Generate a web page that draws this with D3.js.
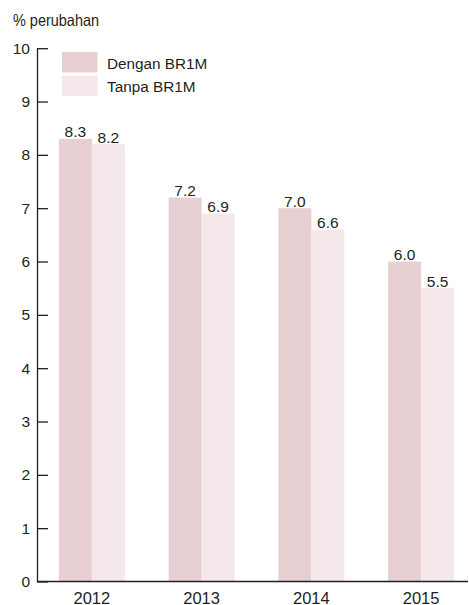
<!DOCTYPE html>
<html><head><meta charset="utf-8">
<script src="https://cdn.jsdelivr.net/npm/d3@7"></script>
<style>body{margin:0;background:#fff}svg{display:block}text{font-family:"Liberation Sans",Arial,sans-serif;fill:#231f20}</style>
</head><body>
<script>
const categories = ["2012","2013","2014","2015"];
const seriesNames = ["Dengan BR1M","Tanpa BR1M"];
const dengan = [8.3,7.2,7.0,6.0];
const tanpa = [8.2,6.9,6.6,5.5];
const yTicks = [0,1,2,3,4,5,6,7,8,9,10];
const colors = ["#e8cfd1","#f5e8ea"];

const W=469,H=605;
const svg=d3.select("body").append("svg").attr("width",W).attr("height",H);
const y=d3.scaleLinear().domain([0,10]).range([581.5,48.2]);
const x0=d3.scaleBand().domain(categories).range([37,476]).padding(0);
const x1=d3.scaleBand().domain(seriesNames).range([0,66]).padding(0);
const off=(x0.bandwidth()-66)/2;
const data=categories.map((c,i)=>({c,vals:[dengan[i],tanpa[i]]}));

const g=svg.selectAll("g.grp").data(data).join("g").attr("transform",d=>`translate(${x0(d.c)+off},0)`);
g.selectAll("rect").data(d=>d.vals.map((v,k)=>({v,k}))).join("rect")
 .attr("x",d=>x1(seriesNames[d.k])).attr("width",x1.bandwidth())
 .attr("y",d=>y(d.v)).attr("height",d=>y(0)-y(d.v)).attr("fill",d=>colors[d.k]);
g.selectAll("text").data(d=>d.vals.map((v,k)=>({v,k}))).join("text")
 .attr("x",d=>x1(seriesNames[d.k])+x1.bandwidth()/2).attr("y",d=>y(d.v)-1.5)
 .attr("text-anchor","middle").attr("font-size",15.5).text(d=>d.v.toFixed(1));

// y axis
const ya=svg.append("g").attr("transform","translate(37,0)").call(d3.axisLeft(y).tickValues(yTicks).tickSize(-11).tickPadding(7).tickSizeOuter(0).tickFormat(d3.format("d")));
ya.attr("font-family",null);
ya.select(".domain").attr("stroke","#231f20").attr("stroke-width",1.3);
ya.selectAll(".tick line").attr("stroke","#231f20").attr("stroke-width",1.3);
ya.selectAll(".tick text").attr("font-size",15.5).attr("x",-7).attr("fill","#231f20");

// x axis
const xa=svg.append("g").attr("transform",`translate(0,${y(0)})`).call(d3.axisBottom(x0).tickSize(0).tickSizeOuter(0));
xa.attr("font-family",null);
xa.select(".domain").attr("stroke","#231f20").attr("stroke-width",1.3).attr("d","M37,0H468");
xa.selectAll(".tick text").attr("font-size",16.5).attr("fill","#231f20").attr("y",22).attr("dy",0);

// title
svg.append("text").attr("x",13).attr("y",26).attr("font-size",16.5)
 .attr("textLength",86).attr("lengthAdjust","spacingAndGlyphs").text("% perubahan");

// legend
const lg=svg.append("g").selectAll("g").data(seriesNames).join("g").attr("transform",(d,i)=>`translate(62,${52+i*23.7})`);
lg.append("rect").attr("width",35.5).attr("height",20.5).attr("fill",(d,i)=>colors[i]);
lg.append("text").attr("x",45).attr("y",16.5).attr("font-size",15.3).text(d=>d);
</script>
</body></html>
